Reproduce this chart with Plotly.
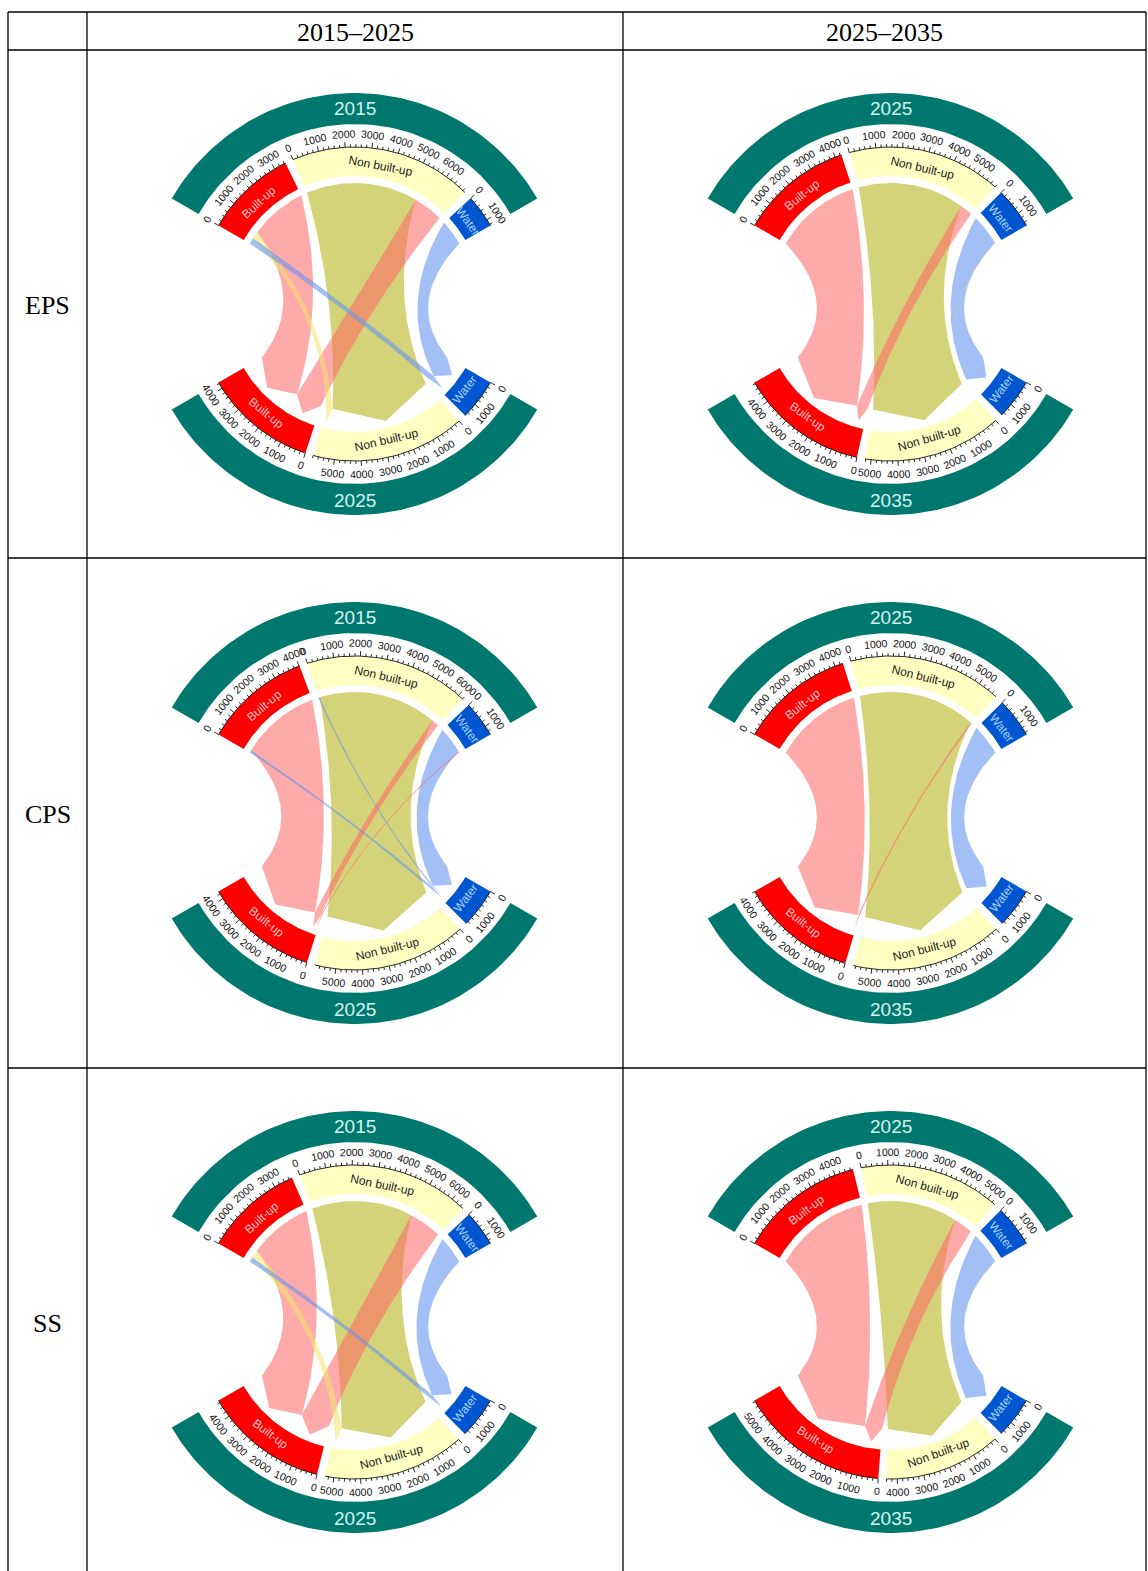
import numpy as np
import plotly.graph_objects as go

# ---------------- data ----------------
classes = ["Built-up", "Non built-up", "Water"]
scenarios = ["EPS", "CPS", "SS"]
periods = ["2015–2025", "2025–2035"]
start_years = ["2015", "2025"]
end_years = ["2025", "2035"]

# transition matrices: rows = class at start year, cols = class at end year
# order: Built-up, Non built-up, Water
eps_2015_2025 = [[2800, 350, 300], [1450, 5450, 0], [0, 0, 1250]]
eps_2025_2035 = [[4250, 0, 0], [600, 5200, 0], [0, 30, 1520]]
cps_2015_2025 = [[3900, 0, 120], [350, 5790, 75], [60, 0, 1305]]
cps_2025_2035 = [[4310, 0, 0], [90, 5700, 0], [0, 0, 1500]]
ss_2015_2025 = [[3100, 400, 220], [1600, 4930, 0], [0, 0, 1350]]
ss_2025_2035 = [[4700, 0, 0], [950, 4380, 0], [0, 20, 1550]]

matrices = [[eps_2015_2025, eps_2025_2035],
            [cps_2015_2025, cps_2025_2035],
            [ss_2015_2025, ss_2025_2035]]

# ---------------- layout / style ----------------
W, H = 1148, 1571
col_x = [8, 87, 623, 1146]
row_y = [12, 50, 558, 1068, 1575]
cxs = [354.5, 890.5]
cys = [304, 813, 1322]

TOP_START, BOT_START, SPAN, GAP = 150.0, -30.0, 120.0, 3.0
R_BAND_IN, R_BAND_OUT = 180, 211
R_SEC_IN, R_SEC_OUT = 128, 157
R_SRC, R_CORNER, R_TIP = 121, 107, 121
CTRL_S = 0.5   # control point = centre + s * (chord midpoint - centre)
TEAL = "#00786E"
SEC_COL = ["#FF0000", "#FFFFC2", "#0055D0"]
SEC_TXT = ["#FFC4C4", "#1a1a1a", "#A8D4FF"]
SANS = "Liberation Sans, Arial, sans-serif"
SERIF = "Liberation Serif, Times New Roman, serif"

fig = go.Figure()
annotations = []


def pol(cx, cy, r, th):
    t = np.deg2rad(th)
    return cx + r * np.cos(t), cy - r * np.sin(t)


def arc(cx, cy, r, t0, t1, n=80):
    th = np.linspace(t0, t1, n)
    x, y = pol(cx, cy, r, th)
    return list(x), list(y)


def annulus(cx, cy, r0, r1, t0, t1, n=80):
    xo, yo = arc(cx, cy, r1, t0, t1, n)
    xi, yi = arc(cx, cy, r0, t1, t0, n)
    return xo + xi + [xo[0]], yo + yi + [yo[0]]


def bez(cx, cy, P, Q, n=60):
    P = np.array(P, float)
    Q = np.array(Q, float)
    O = np.array([cx, cy], float)
    Mid = (P + Q) / 2
    C = O + CTRL_S * (Mid - O)
    t = np.linspace(0, 1, n)[:, None]
    pts = (1 - t) ** 2 * P + 2 * (1 - t) * t * C + t ** 2 * Q
    return list(pts[:, 0]), list(pts[:, 1])


def angle_top(th):
    return 90 - th


def angle_bot(th):
    return -(th + 90)


def link_color(i, j):
    if j == 0:
        return "rgba(255,100,100,0.55)"
    if j == 1:
        return "rgba(190,188,50,0.65)" if i == 1 else "rgba(240,228,110,0.55)"
    return "rgba(100,150,240,0.6)"


def draw_chord(cx, cy, M, ytop, ybot):
    M = np.array(M, float)
    top = M.sum(1)
    bot = M.sum(0)
    total = top.sum()
    k = total / (SPAN - 2 * GAP)  # units per degree

    ts = []
    acc = TOP_START
    for i in range(3):
        ts.append(acc)
        acc -= top[i] / k + GAP
    tb = [0, 0, 0]
    acc = BOT_START
    for j in [2, 1, 0]:
        tb[j] = acc
        acc -= bot[j] / k + GAP

    for (t0, t1, lab, th) in [(30, 150, ytop, 90), (210, 330, ybot, 270)]:
        x, y = annulus(cx, cy, R_BAND_IN, R_BAND_OUT, t0, t1)
        fig.add_trace(go.Scatter(x=x, y=y, fill="toself", fillcolor=TEAL, mode="lines",
                                 line=dict(width=0), hoverinfo="skip"))
        lx, ly = pol(cx, cy, (R_BAND_IN + R_BAND_OUT) / 2 + 0.5, th)
        annotations.append(dict(x=lx, y=ly, text=lab, showarrow=False, xanchor="center",
                                yanchor="middle", font=dict(family=SANS, size=19, color="#D2F4F0")))

    src_off = {}
    for i in range(3):
        off = 0
        for j in [2, 1, 0]:
            src_off[(i, j)] = off
            off += M[i, j]
    tgt_off = {}
    for j in range(3):
        off = 0
        for i in [2, 1, 0]:
            tgt_off[(i, j)] = off
            off += M[i, j]
    pairs = [(0, 0), (1, 1), (2, 2), (1, 0), (2, 0), (0, 1), (2, 1), (0, 2), (1, 2)]
    for (i, j) in pairs:
        v = M[i, j]
        if v <= 0:
            continue
        a1 = ts[i] - src_off[(i, j)] / k
        a2 = a1 - v / k
        b1 = tb[j] - tgt_off[(i, j)] / k
        b2 = b1 - v / k
        bm = (b1 + b2) / 2
        xs, ys = arc(cx, cy, R_SRC, a1, a2, 30)
        ex, ey = bez(cx, cy, pol(cx, cy, R_SRC, a2), pol(cx, cy, R_CORNER, b1))
        xs += ex
        ys += ey
        tx, ty = pol(cx, cy, R_TIP, bm)
        xs.append(tx)
        ys.append(ty)
        ex, ey = bez(cx, cy, pol(cx, cy, R_CORNER, b2), pol(cx, cy, R_SRC, a1))
        xs += ex
        ys += ey
        fig.add_trace(go.Scatter(x=xs, y=ys, fill="toself", fillcolor=link_color(i, j),
                                 mode="lines", line=dict(width=0), hoverinfo="skip"))

    tick_x, tick_y = [], []
    for half, starts, sizes in [("top", ts, top), ("bot", tb, bot)]:
        for c in range(3):
            t0 = starts[c]
            t1 = t0 - sizes[c] / k
            x, y = annulus(cx, cy, R_SEC_IN, R_SEC_OUT, t0, t1, 60)
            fig.add_trace(go.Scatter(x=x, y=y, fill="toself", fillcolor=SEC_COL[c], mode="lines",
                                     line=dict(width=0), hoverinfo="skip"))
            ax_, ay_ = arc(cx, cy, R_SEC_OUT, t0, t1, 60)
            tick_x += ax_ + [None]
            tick_y += ay_ + [None]
            v = 0
            while v <= sizes[c] + 1e-6:
                th = t0 - v / k
                major = (v % 1000 == 0)
                L = 5 if major else 2.8
                p0 = pol(cx, cy, R_SEC_OUT, th)
                p1 = pol(cx, cy, R_SEC_OUT + L, th)
                tick_x += [p0[0], p1[0], None]
                tick_y += [p0[1], p1[1], None]
                if major:
                    lx, ly = pol(cx, cy, R_SEC_OUT + 13, th)
                    ang = angle_top(th) if half == "top" else angle_bot(th)
                    annotations.append(dict(x=lx, y=ly, text=str(int(v)), showarrow=False,
                                            textangle=ang, xanchor="center", yanchor="middle",
                                            font=dict(family=SANS, size=10.5, color="#111")))
                v += 200
            mid = (t0 + t1) / 2
            lx, ly = pol(cx, cy, 140, mid)
            ang = angle_top(mid) if half == "top" else angle_bot(mid)
            annotations.append(dict(x=lx, y=ly, text=classes[c], showarrow=False, textangle=ang,
                                    xanchor="center", yanchor="middle",
                                    font=dict(family=SANS, size=12, color=SEC_TXT[c])))
    fig.add_trace(go.Scatter(x=tick_x, y=tick_y, mode="lines", line=dict(color="#111", width=0.9),
                             hoverinfo="skip"))


for r in range(3):
    for c in range(2):
        draw_chord(cxs[c], cys[r], matrices[r][c], start_years[c], end_years[c])

for c in range(2):
    annotations.append(dict(x=(col_x[c + 1] + col_x[c + 2]) / 2, y=(row_y[0] + row_y[1]) / 2 + 1,
                            text=periods[c], showarrow=False, xanchor="center", yanchor="middle",
                            font=dict(family=SERIF, size=26, color="#000")))
for r in range(3):
    annotations.append(dict(x=(col_x[0] + col_x[1]) / 2, y=cys[r] + 1, text=scenarios[r],
                            showarrow=False, xanchor="center", yanchor="middle",
                            font=dict(family=SERIF, size=26, color="#000")))

shapes = []
for x in col_x:
    shapes.append(dict(type="line", x0=x, x1=x, y0=row_y[0], y1=row_y[-1],
                       line=dict(color="#000", width=1.3)))
for y in row_y[:-1]:
    shapes.append(dict(type="line", x0=col_x[0], x1=col_x[-1], y0=y, y1=y,
                       line=dict(color="#000", width=1.3)))

fig.update_layout(width=W, height=H, margin=dict(l=0, r=0, t=0, b=0),
                  paper_bgcolor="white", plot_bgcolor="white", showlegend=False,
                  xaxis=dict(range=[0, W], visible=False, fixedrange=True),
                  yaxis=dict(range=[H, 0], visible=False, fixedrange=True),
                  annotations=annotations, shapes=shapes)

fig.write_html("out.html", config={"displayModeBar": False},
               post_script="document.body.style.margin='0';document.body.style.overflow='hidden';")
